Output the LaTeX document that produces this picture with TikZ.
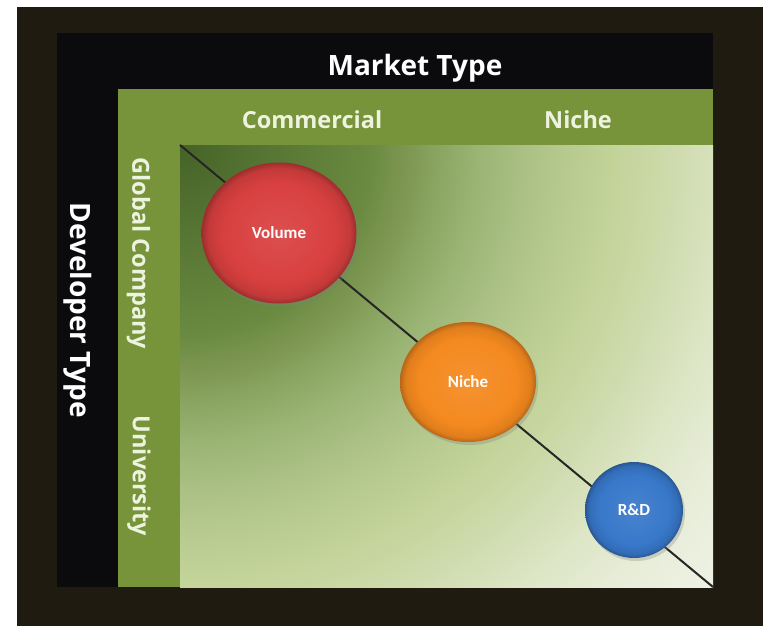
\documentclass[tikz,border=0pt]{standalone}
\usepackage{fontspec}
\setmainfont{Open Sans}
\newfontfamily\bubblefont{Carlito}
\usetikzlibrary{shapes.geometric,shadows}

\definecolor{framebrown}{HTML}{1F1B11}
\definecolor{panelblack}{HTML}{0B0B0D}
\definecolor{bandgreen}{HTML}{77943B}
\definecolor{labeltint}{HTML}{EEF3E0}
\definecolor{volred}{HTML}{D8403F}
\definecolor{nicheorange}{HTML}{F4891F}
\definecolor{rdblue}{HTML}{3878CA}

% field background: dark green in the top-left corner, fading outwards
\pgfdeclareradialshading{fieldshade}{\pgfpoint{0bp}{0bp}}{%
  color(0bp)=(rgb,255:red,70;green,99;blue,40);
  color(6.8bp)=(rgb,255:red,106;green,138;blue,64);
  color(7.9bp)=(rgb,255:red,123;green,149;blue,80);
  color(10.7bp)=(rgb,255:red,155;green,181;blue,117);
  color(12.9bp)=(rgb,255:red,176;green,196;blue,138);
  color(15.4bp)=(rgb,255:red,194;green,211;blue,152);
  color(17.9bp)=(rgb,255:red,208;green,220;blue,176);
  color(20bp)=(rgb,255:red,221;green,230;blue,198);
  color(22.5bp)=(rgb,255:red,233;green,238;blue,219);
  color(25bp)=(rgb,255:red,238;green,242;blue,228);
  color(50bp)=(rgb,255:red,238;green,242;blue,228)}

% bevelled bubble fills
\pgfdeclareradialshading{volshade}{\pgfpoint{0bp}{0bp}}{%
  color(0bp)=(volred!92!white); color(18bp)=(volred);
  color(23bp)=(volred!90!black); color(25bp)=(volred!72!black);
  color(50bp)=(volred!72!black)}
\pgfdeclareradialshading{nicheshade}{\pgfpoint{0bp}{0bp}}{%
  color(0bp)=(nicheorange!92!white); color(18bp)=(nicheorange);
  color(23bp)=(nicheorange!92!black); color(25bp)=(nicheorange!75!black);
  color(50bp)=(nicheorange!75!black)}
\pgfdeclareradialshading{rdshade}{\pgfpoint{0bp}{0bp}}{%
  color(0bp)=(rdblue!92!white); color(18bp)=(rdblue);
  color(23bp)=(rdblue!90!black); color(25bp)=(rdblue!72!black);
  color(50bp)=(rdblue!72!black)}

\tikzset{
  axistitle/.style={text=white, font=\bfseries\fontsize{28}{30}\selectfont, inner sep=0pt},
  bandlabel/.style={text=labeltint, font=\bfseries\fontsize{23.5}{26}\selectfont, inner sep=0pt},
  bubble/.style={ellipse, shade, shading=#1, inner sep=0pt,
    text=white, font=\bubblefont\bfseries\fontsize{17}{19}\selectfont,
    drop shadow={opacity=0.3, shadow xshift=2pt, shadow yshift=-3pt}},
  diagonal/.style={line width=2pt, black!85},
}

\begin{document}
\begin{tikzpicture}[x=1pt,y=-1pt]
  \useasboundingbox[fill=white] (0,0) rectangle (763,626);

  % frame, dark panel and green bands
  \fill[framebrown] (17,7) rectangle (763,626);
  \fill[panelblack] (57,33) rectangle (713,587);
  \fill[bandgreen] (118,89) rectangle (713,145);
  \fill[bandgreen] (118,145) rectangle (180,587);

  % shaded field, centred on its top-left corner
  \begin{scope}
    \clip (180,145) rectangle (713,587);
    \shade[shading=fieldshade] (-520,-555) rectangle (880,845);
  \end{scope}

  % axis titles and band labels
  \node[axistitle] (market) at (415,68) {Market Type};
  \node[axistitle, rotate=-90] (developer) at (78,310) {Developer Type};
  \node[bandlabel] (commercial) at (312,119.5) {Commercial};
  \node[bandlabel] (nicheh) at (578,119.5) {Niche};
  \node[bandlabel, rotate=-90] (global) at (138.5,253.5) {Global Company};
  \node[bandlabel, rotate=-90] (university) at (139,476) {University};

  % diagonal through the field
  \coordinate (tl) at (180,145);
  \coordinate (br) at (713,587);
  \draw[diagonal] (tl) -- (br);

  % positioning bubbles
  \node[bubble=volshade, minimum width=155pt, minimum height=141pt]
    (volume) at (279,233) {Volume};
  \node[bubble=nicheshade, minimum width=136pt, minimum height=120pt]
    (niche) at (468,382) {Niche};
  \node[bubble=rdshade, minimum width=98pt, minimum height=96pt]
    (rd) at (634,510) {R\&D};
\end{tikzpicture}
\end{document}
